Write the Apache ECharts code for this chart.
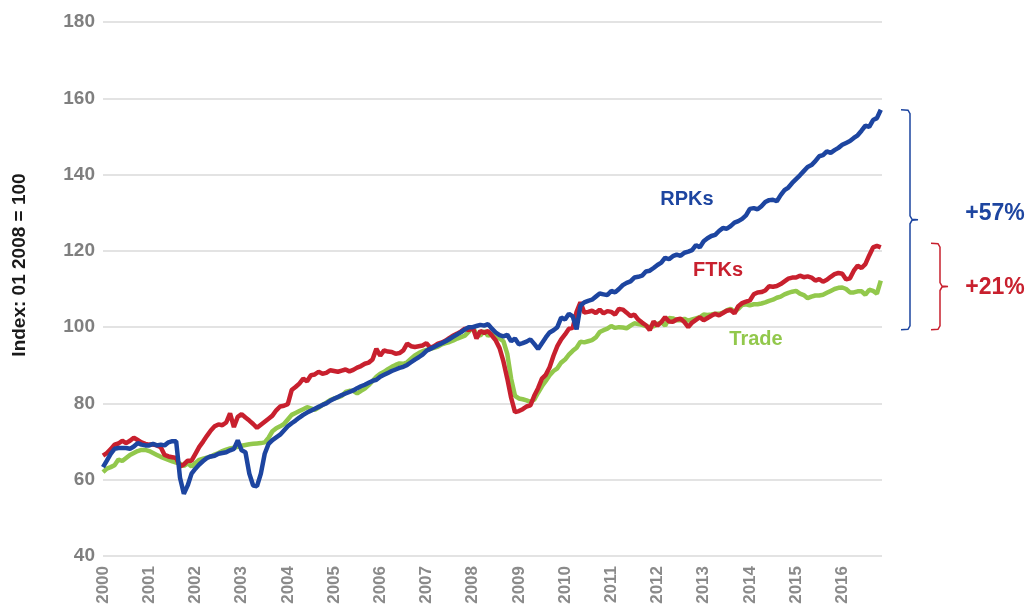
<!DOCTYPE html>
<html lang="en">
<head>
    <meta charset="UTF-8">
    <title>RPKs, FTKs and Trade index</title>
    <script src="https://cdn.jsdelivr.net/npm/echarts@6/dist/echarts.min.js"></script>
    <style>
        html, body { margin: 0; padding: 0; background: #fff; }
    </style>
</head>
<body>
    <div id="main" style="width:1032px;height:609px;"></div>
    <script type="text/javascript">
        // monthly index, Jan 2000 .. Nov 2016 (01 2008 = 100), one row per year
        var startYear = 2000;
        var years = [2000, 2001, 2002, 2003, 2004, 2005, 2006, 2007, 2008,
                     2009, 2010, 2011, 2012, 2013, 2014, 2015, 2016];

        var rpk = [
            63.3, 65.0, 66.8, 68.1, 68.3, 68.3, 68.3, 68.1, 68.7, 69.6, 69.2, 69.0,
            69.0, 69.4, 69.0, 69.2, 69.0, 69.8, 70.1, 70.1, 60.5, 56.3, 58.5, 61.6,
            62.9, 64.0, 64.9, 65.7, 66.1, 66.3, 66.8, 67.0, 67.2, 67.7, 68.1, 70.3,
            67.7, 67.2, 61.6, 58.5, 58.3, 61.6, 66.8, 69.4, 70.4, 71.1, 71.8, 72.9,
            74.0, 74.8, 75.5, 76.3, 77.0, 77.6, 78.1, 78.6, 79.1, 79.6, 80.0, 80.7,
            81.2, 81.7, 82.2, 82.6, 83.0, 83.4, 84.0, 84.5, 84.9, 85.4, 85.9, 86.2,
            87.0, 87.5, 88.0, 88.5, 88.9, 89.3, 89.6, 90.1, 90.8, 91.5, 92.1, 92.8,
            93.8, 94.3, 94.8, 95.3, 95.8, 96.3, 96.9, 97.5, 98.1, 98.7, 99.4, 100.0,
            100.0, 100.3, 100.6, 100.4, 100.8, 99.6, 98.6, 97.9, 97.6, 98.0, 96.3, 97.0,
            95.5, 95.8, 96.2, 96.8, 95.6, 94.3, 95.8, 97.3, 98.6, 99.2, 100.0, 102.5,
            102.0, 103.5, 102.8, 99.4, 105.6, 106.5, 106.9, 107.2, 108.0, 108.8, 108.6, 108.4,
            109.5, 109.1, 110.0, 111.0, 111.6, 112.0, 113.0, 113.2, 113.5, 114.6, 114.8, 115.5,
            116.3, 116.9, 118.2, 117.8, 118.6, 119.0, 118.7, 119.5, 119.8, 120.2, 121.5, 120.9,
            122.5, 123.3, 123.9, 124.2, 125.2, 126.0, 125.8, 126.5, 127.4, 127.8, 128.4, 129.3,
            131.0, 131.2, 130.9, 131.7, 132.8, 133.3, 133.4, 133.0, 134.6, 135.9, 136.6, 137.8,
            138.8, 139.8, 140.9, 142.0, 142.5, 143.5, 144.8, 145.1, 146.1, 145.7, 146.4, 147.0,
            147.8, 148.3, 148.8, 149.6, 150.3, 151.5, 152.8, 152.5, 154.3, 154.8, 157.0
        ];

        var ftk = [
            66.3, 67.0, 68.0, 69.2, 69.5, 70.2, 69.6, 70.2, 71.0, 70.4, 69.8, 69.4,
            69.2, 69.2, 69.0, 68.5, 66.5, 66.1, 65.9, 65.7, 63.5, 64.0, 65.0, 65.0,
            66.8, 68.6, 70.0, 71.5, 72.9, 74.0, 74.5, 74.3, 75.0, 77.4, 73.8, 76.5,
            77.2, 76.3, 75.5, 74.6, 73.6, 74.4, 75.2, 76.0, 76.8, 78.2, 79.2, 79.4,
            79.8, 83.5, 84.3, 85.2, 86.5, 85.8, 87.4, 87.6, 88.3, 87.8, 88.0, 88.7,
            88.5, 88.3, 88.6, 88.9, 88.4, 88.8, 89.4, 89.8, 90.4, 90.7, 91.5, 94.3,
            92.5, 93.9, 93.6, 93.5, 93.0, 93.2, 93.9, 95.7, 95.0, 94.8, 95.0, 95.2,
            95.8, 94.6, 95.0, 95.7, 96.0, 96.5, 97.2, 97.8, 98.3, 98.9, 99.6, 99.2,
            100.0, 97.0, 99.0, 98.5, 99.0, 97.8, 96.5, 94.5, 91.0, 86.5, 81.5, 77.7,
            78.0, 78.5, 79.2, 79.5, 82.0, 84.0, 86.5, 87.5, 89.5, 92.5, 95.0, 96.8,
            98.1, 99.6, 99.8, 104.0, 106.5, 103.8, 104.0, 104.3, 103.7, 104.6, 103.6, 104.2,
            104.0, 103.3, 104.8, 104.6, 103.8, 102.9, 103.3, 102.0, 101.2, 100.5, 99.2, 101.5,
            100.4, 101.3, 102.6, 101.5, 101.4, 102.0, 102.2, 101.3, 100.0, 101.2, 101.9, 102.6,
            101.8, 102.4, 103.0, 103.5, 103.1, 103.7, 104.3, 104.5, 103.6, 105.5, 106.3, 106.7,
            107.0, 108.6, 109.1, 109.2, 109.6, 110.7, 110.6, 110.8, 111.3, 112.0, 112.7, 113.0,
            113.0, 113.5, 113.1, 113.3, 113.0, 112.2, 112.6, 111.9, 112.4, 113.2, 113.9, 114.2,
            114.0, 112.5, 112.8, 114.8, 116.1, 115.5, 116.5, 118.8, 120.9, 121.3, 120.9
        ];

        var trade = [
            62.0, 62.9, 63.3, 63.8, 65.3, 64.9, 65.7, 66.5, 67.0, 67.5, 67.8, 67.8,
            67.5, 67.0, 66.5, 66.0, 65.6, 65.2, 64.8, 64.5, 64.2, 63.6, 64.3, 63.5,
            64.4, 65.2, 65.5, 65.8, 66.1, 66.6, 67.0, 67.5, 67.9, 68.2, 68.4, 68.6,
            68.9, 69.1, 69.3, 69.4, 69.5, 69.6, 69.8, 71.0, 72.7, 73.5, 74.0, 74.6,
            75.8, 77.0, 77.5, 78.0, 78.5, 79.0, 78.7, 78.3, 78.9, 79.6, 80.2, 80.9,
            81.3, 81.6, 82.0, 83.0, 83.3, 83.3, 82.6, 83.3, 83.9, 84.8, 85.9, 87.0,
            87.8, 88.3, 89.0, 89.6, 90.1, 90.5, 90.4, 90.8, 91.7, 92.6, 93.2, 93.7,
            94.0, 94.3, 94.6, 94.9, 95.5, 95.8, 96.1, 96.5, 97.0, 97.4, 97.8, 98.8,
            100.0, 98.2, 97.8, 99.0, 97.7, 98.4, 97.6, 97.0, 96.3, 93.0, 86.5, 82.0,
            81.3, 81.1, 80.8, 80.4, 81.0, 82.8, 84.5, 85.9, 87.4, 88.5, 89.2, 90.7,
            91.5, 92.8, 93.8, 94.6, 96.2, 96.0, 96.3, 96.6, 97.3, 98.7, 99.2, 99.6,
            100.3, 99.8, 100.0, 99.9, 99.7, 100.4, 101.0, 100.8, 100.6, 100.3, 100.0, 100.2,
            100.8, 101.3, 100.4, 102.4, 102.3, 101.8, 101.8, 102.2, 101.7, 102.0, 102.3, 102.6,
            103.3, 103.2, 103.3, 103.5, 103.5, 103.8, 104.4, 104.8, 104.0, 104.8, 105.8, 106.0,
            105.7, 106.0, 106.0, 106.2, 106.5, 106.9, 107.2, 107.7, 108.0, 108.6, 109.0, 109.3,
            109.5, 108.8, 108.4, 107.6, 108.0, 108.3, 108.3, 108.5, 109.0, 109.5, 110.0, 110.3,
            110.4, 110.0, 109.1, 109.1, 109.4, 109.4, 108.5, 109.8, 109.5, 108.8, 112.2
        ];

        var blue = '#1d45a0', red = '#c8202e', green = '#92c84c';
        var font = 'Liberation Sans, Arial, sans-serif';

        function toPairs(arr) {
            return arr.map(function (v, i) { return [startYear + i / 12, v]; });
        }

        var myChart = echarts.init(document.getElementById('main'));
        var option = {
            animation: false,
            textStyle: { fontFamily: font },
            grid: { left: 103, right: 150, top: 22, bottom: 53 },
            xAxis: {
                type: 'value',
                min: 2000,
                max: 2016.86,
                interval: 1,
                axisLine: { show: false },
                axisTick: { show: false },
                splitLine: { show: false },
                axisLabel: {
                    rotate: 90,
                    margin: 10,
                    color: '#8a8a8a',
                    fontWeight: 'bold',
                    fontSize: 17,
                    showMaxLabel: false,
                    formatter: function (v) {
                        return years.indexOf(v) >= 0 ? String(v) : '';
                    }
                }
            },
            yAxis: {
                type: 'value',
                min: 40,
                max: 180,
                interval: 20,
                axisLine: { show: false },
                axisTick: { show: false },
                axisLabel: { margin: 8, color: '#7f7f7f', fontWeight: 'bold', fontSize: 19 },
                splitLine: { lineStyle: { color: '#dadada', width: 1.5 } }
            },
            series: [
                { name: 'Trade', type: 'line', data: toPairs(trade), showSymbol: false,
                  lineStyle: { color: green, width: 4.5 }, itemStyle: { color: green } },
                { name: 'FTKs', type: 'line', data: toPairs(ftk), showSymbol: false,
                  lineStyle: { color: red, width: 4.5 }, itemStyle: { color: red } },
                { name: 'RPKs', type: 'line', data: toPairs(rpk), showSymbol: false,
                  lineStyle: { color: blue, width: 4.5 }, itemStyle: { color: blue } }
            ]
        };
        myChart.setOption(option);

        // curly brackets for growth since Jan 2008
        function bracket(x, yTop, yBot, color) {
            var mid = (yTop + yBot) / 2;
            var v = x + 9;
            return {
                type: 'polyline',
                shape: { points: [
                    [x, yTop], [v - 2, yTop + 0.5], [v, yTop + 4], [v, mid - 4],
                    [v + 2, mid - 0.5], [v + 8, mid], [v + 2, mid + 0.5], [v, mid + 4],
                    [v, yBot - 4], [v - 2, yBot - 0.5], [x, yBot]
                ] },
                style: { stroke: color, lineWidth: 1.5, fill: null }
            };
        }
        function py(val) {
            return myChart.convertToPixel({ gridIndex: 0 }, [2016, val])[1];
        }
        var rpkEnd = rpk[rpk.length - 1];
        var ftkEnd = 122;
        function label(text, x, y, color, size, rot) {
            return {
                type: 'text', x: x, y: y, rotation: rot || 0,
                style: { text: text, fill: color, font: 'bold ' + size + 'px ' + font,
                         align: 'center', verticalAlign: 'middle' }
            };
        }
        myChart.setOption({
            graphic: [
                bracket(901, py(rpkEnd), py(99.3), blue),
                bracket(931, py(ftkEnd), py(99.3), red),
                label('+57%', 995, 214, blue, 23),
                label('+21%', 995, 288, red, 23),
                label('RPKs', 687, 199, blue, 20),
                label('FTKs', 718, 270, red, 20),
                label('Trade', 756, 339, green, 20),
                label('Index: 01 2008 = 100', 20, 265, '#1a1a1a', 19, Math.PI / 2)
            ]
        });
    </script>
</body>
</html>
